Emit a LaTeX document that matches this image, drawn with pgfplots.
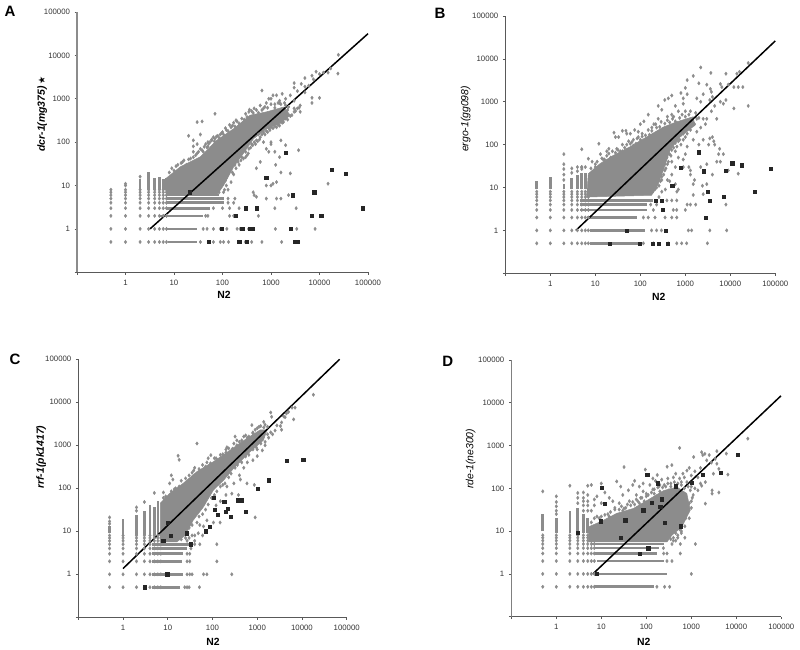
\documentclass[border=0pt]{standalone}
\usepackage{pgfplots}
\usepackage{pgfplotstable}
\usepackage{fontspec}
\setmainfont{Liberation Sans}
\newfontfamily\djv{DejaVu Sans}
\pgfplotsset{compat=1.18}
\definecolor{gr}{HTML}{8C8C8C}
\definecolor{sq}{HTML}{262626}
\pgfplotstableread{
x y
0.5 0.5
1 0.5
2 0.5
3 0.5
4 0.5
5 0.5
6 0.5
7 0.5
0.5 1
1 1
2 1
3 1
4 1
5 1
6 1
7 1
0.5 2
1 2
2 2
3 2
4 2
5 2
6 2
7 2
0.5 3
1 3
2 3
3 3
4 3
5 3
6 3
7 3
0.5 4
1 4
2 4
3 4
4 4
5 4
6 4
7 4
0.5 5
1 5
2 5
3 5
4 5
5 5
6 5
7 5
0.5 6
1 6
2 6
3 6
4 6
5 6
6 6
7 6
0.5 7
1 7
2 7
3 7
4 7
5 7
6 7
7 7
0.5 8
1 8
2 8
3 8
4 8
5 8
6 8
7 8
}\lowgrid
\begin{document}
\begin{tikzpicture}
\path[use as bounding box] (0pt,0pt) rectangle (800pt,650pt);
\node[font=\fontsize{15}{15}\selectfont\bfseries] at (10pt,639pt) {A};
\node[font=\fontsize{15}{15}\selectfont\bfseries] at (440pt,637pt) {B};
\node[font=\fontsize{15}{15}\selectfont\bfseries] at (15pt,291pt) {C};
\node[font=\fontsize{15}{15}\selectfont\bfseries] at (447.7pt,289pt) {D};

% ---------- A
\begin{axis}[scale only axis, xmode=log, ymode=log,
    xmin=0.1,xmax=100000,ymin=0.1,ymax=100000,
    axis x line=bottom, axis y line=left,
    axis line style={-,draw=black!65,line width=0.8pt},
    xtick={0.1,1,10,100,1000,10000,100000},
    ytick={0.1,1,10,100,1000,10000,100000},
    xticklabels={,1,10,100,1000,10000,100000},
    yticklabels={,1,10,100,1000,10000,100000},
    xminorticks=false, yminorticks=false,
    tick align=outside, major tick length=2.5pt,
    tick style={draw=black!65,line width=0.6pt},
    tick label style={font=\fontsize{7.8}{9}\selectfont,text=black!80},
    xticklabel style={yshift=-1.5pt},
    yticklabel style={xshift=-1pt},
    clip=false,
    at={(77pt,377.7pt)},anchor=south west,width=291pt,height=260.3pt,
  y axis line style={draw=black!45,line width=1.3pt},
  xlabel={N2},ylabel={dcr-1(mg375)\,{\djv\upshape\fontsize{9}{9}\selectfont ★}},
  xlabel style={font=\fontsize{10.4}{12}\selectfont\bfseries,anchor=center,at={(axis description cs:0.505,-0.088)}},
  ylabel style={font=\fontsize{10.4}{12}\selectfont\bfseries\itshape,anchor=center,at={(axis description cs:-0.12,0.608)}}]
\addplot[fill=gr,draw=gr,line width=0.5pt] coordinates {(6.8,14.5)(13.5,27)(35,46)(76,110)(170,204)(370,417)(813,500)(1820,645)(2500,417)(1550,270)(813,204)(437,120)(270,55)(170,27)(105,10)(76,6)(7,6)(6.8,14.5)};
\addplot[only marks,mark=diamond*,mark size=1.7pt,color=gr,mark options={draw=gr,fill=gr}] table {\lowgrid};
\addplot[draw=gr,line width=2.6pt,no marks,line cap=butt] table {
x y
7.5 0.5
30 0.5

7 1
30 1

5 2
40 2

7 3
56 3

7 4
105 4

7 5
105 5

7 6
85 6

2 8
2 14

3 8
3 20

4 8
4 15

5 8
5 16

6 8
6 14

7 8
7 15
};
\addplot[only marks,mark=diamond*,mark size=1.7pt,color=gr,mark options={draw=gr,fill=gr}] coordinates {
(1,10)(1,11)(2,16)(35,0.5)(51,0.5)(65,0.5)(90,0.5)(105,0.5)(133,0.5)(214,0.5)(295,0.5)(400,0.5)(650,0.5)(1660,0.5)(3150,0.5)(3700,0.5)
(40,1)(48,1)(65,1)(90,1)(123,1)(200,1)(230,1)(345,1)(437,1)(1230,1)(3400,1)(8100,1)
(45,2)(50,2)(140,2)(170,2)(550,2)(65,3)(100,3)(140,3)(220,3)(1200,3)(3300,3)(130,4)(170,4)(130,5)(180,5)(450,6)(500,5.5)(800,5)(1300,12)(1600,5)(2300,6)(1300,5)(800,10)(1000,10)(15000,11)
(8,20)(10,22)(12,30)(15,35)(18,30)(20,40)(25,45)(25,60)(30,55)(35,70)(40,60)(45,90)(50,80)(55,100)(65,130)(70,120)(80,140)(90,150)(100,170)(120,190)(140,250)(150,220)(170,280)(200,300)(250,350)(300,450)(350,500)(400,520)(500,550)(600,700)(700,600)(800,800)(900,1000)(1100,1200)
(100,12)(120,15)(130,20)(150,25)(180,30)(170,18)(200,40)(220,30)(250,45)(300,60)(350,70)(320,50)(400,90)(450,100)(500,110)(550,150)(600,130)(700,170)(800,180)(900,210)(1000,220)(1200,230)(1400,250)(1700,280)(2000,350)(2500,400)(3000,500)(3500,600)(4000,700)(90,9)(110,8)(120,10)
(9,25)(11,28)(14,33)(16,38)(22,42)(28,50)(32,60)(38,65)(42,78)(48,75)(52,92)(60,115)(68,105)(75,135)(85,125)(95,160)(105,150)(115,210)(130,180)(160,240)(180,230)(190,320)(220,270)(280,330)(320,380)(360,560)(430,470)(450,600)(550,480)(650,550)(750,650)(850,620)(1000,750)(1200,620)(1400,800)(1600,750)(1900,800)(2300,650)
(95,11)(115,13)(125,17)(140,22)(160,20)(160,32)(190,25)(210,35)(240,38)(270,42)(300,45)(340,55)(380,75)(420,85)(480,90)(530,105)(580,115)(650,150)(750,150)(850,170)(950,190)(1100,210)(1300,220)(1500,240)(1800,290)(2200,330)(2700,420)(3200,520)(3800,620)(105,7)(85,7)(130,8)(150,12)
(24500,10300)(24000,3800)(17000,5000)(15000,4000)(12000,4000)(8500,4200)(10000,3700)(7000,3400)(7500,2800)(5000,3000)(3000,2300)(4200,2200)(3000,1800)(650,1550)(1700,1300)(1300,1200)(1000,1000)(1500,900)(2000,1000)(2500,1200)(5000,1900)(6000,2000)(7000,1050)(10000,1050)(7000,800)(5000,1400)(3500,1500)(3000,900)(2000,700)(1500,800)(1200,750)(2200,550)(3000,600)(4000,500)
(20,140)(25,110)(30,290)(38,300)(70,450)(35,150)(50,100)(60,110)(70,90)(30,90)(25,80)
(3700,65)(2500,19)(1250,30)(1100,11)(1600,20)(1000,100)(900,60)(1200,60)(1500,45)(2000,85)(1600,110)(1000,90)(800,70)(700,100)(430,7)(600,35)(500,25)
};
\addplot[draw=black,line width=1.5pt,no marks] coordinates {(3.2,1)(100000,31600)};
\addplot[only marks,mark=square*,mark size=1.6pt,color=sq,mark options={draw=sq,fill=sq}] coordinates {(21,7)(2000,57)(795,15)(17700,23)(35000,19)(2820,6)(7760,7)(300,3)(510,3)(79000,3)(190,2)(6950,2)(10800,2)(98,1)(255,1)(370,1)(425,1)(2510,1)(51,0.5)(220,0.5)(316,0.5)(3150,0.5)(3550,0.5)};
\end{axis}

% ---------- B
\begin{axis}[scale only axis, xmode=log, ymode=log,
    xmin=0.1,xmax=100000,ymin=0.1,ymax=100000,
    axis x line=bottom, axis y line=left,
    axis line style={-,draw=black!65,line width=0.8pt},
    xtick={0.1,1,10,100,1000,10000,100000},
    ytick={0.1,1,10,100,1000,10000,100000},
    xticklabels={,1,10,100,1000,10000,100000},
    yticklabels={,1,10,100,1000,10000,100000},
    xminorticks=false, yminorticks=false,
    tick align=outside, major tick length=2.5pt,
    tick style={draw=black!65,line width=0.6pt},
    tick label style={font=\fontsize{7.8}{9}\selectfont,text=black!80},
    xticklabel style={yshift=-1.5pt},
    yticklabel style={xshift=-1pt},
    clip=false,
    at={(505.3pt,376.7pt)},anchor=south west,width=270pt,height=257.3pt,
  xlabel={N2},ylabel={\mdseries ergo-1(gg098)},
  xlabel style={font=\fontsize{10.4}{12}\selectfont\bfseries,anchor=center,at={(axis description cs:0.568,-0.093)}},
  ylabel style={font=\fontsize{10.4}{12}\selectfont\bfseries\itshape,anchor=center,at={(axis description cs:-0.147,0.60)}}]
\addplot[fill=gr,draw=gr,line width=0.5pt] coordinates {(7,21)(12.7,36)(25,56)(59,89)(138,151)(324,257)(640,340)(1500,447)(1630,282)(760,151)(457,74)(324,25)(250,12)(178,6.6)(6.4,6)(7,21)};
\addplot[only marks,mark=diamond*,mark size=1.7pt,color=gr,mark options={draw=gr,fill=gr}] table {\lowgrid};
\addplot[draw=gr,line width=2.6pt,no marks,line cap=butt] table {
x y
7.5 0.5
98 0.5

7.6 1
127 1

6.4 2
83 2

4.6 3
138 3

4.6 4
138 4

4.6 5
195 5

0.5 9
0.5 14

1 9
1 18

2 9
2 12

3 9
3 17

4 9
4 20

5 9
5 22

6 9
6 22
};
\addplot[only marks,mark=diamond*,mark size=1.7pt,color=gr,mark options={draw=gr,fill=gr}] coordinates {
(2,15)(2,20)(2,27)(2,35)(2,60)(3,22)(3,28)(4,24)(4,30)(5,27)(5,30)(5,78)
(117,0.5)(195,0.5)(417,0.5)(645,0.5)(830,0.5)(1070,0.5)(3100,0.5)
(178,1)(230,1)(295,1)(1170,1)(1380,1)(3500,1)(8300,1)
(117,2)(150,2)(212,2)(355,2)(500,2)(645,2)
(195,3)(540,3)(645,3)(170,4)(230,4)(390,5)(500,5)(645,5)(260,6)(1100,4)(1300,4)(1700,4)(1000,3)(8000,4)
(2200,6300)(3700,4700)(8000,4500)(1500,4000)(1100,3200)(25000,8000)(16000,5000)(14000,4500)(6000,2600)(6500,2200)(9000,2500)(12000,2200)(15000,2200)(19000,2200)(2000,2700)(1000,2100)(3000,2500)(3600,2000)(1100,1500)(900,1200)(2500,1500)(3800,1700)(4000,1300)(2200,1000)(1800,1200)(3500,1100)(800,1600)(500,1400)(420,1200)(350,1100)(250,800)(150,500)(300,650)(600,800)(900,900)(12000,700)(25000,800)(8000,1100)(7000,900)(6000,1000)(4500,800)(3800,600)(5000,400)(3000,400)(2500,400)(1800,400)(1200,500)(1000,450)(700,600)(500,500)(600,350)(400,450)(250,400)(200,300)
(48,210)(50,180)(28,150)(12,105)(20,80)(33,150)(40,210)(60,180)(90,200)(75,220)(100,300)(120,350)(26,190)(7,47)(8.5,40)(13,60)(18,70)(22,50)(10,30)(15,45)(30,80)(40,100)(55,120)(70,130)(90,150)(110,180)(150,220)(180,250)(220,300)(5,30)(6,30)(40,70)(70,95)
(8,28)(9,24)(10,35)(11,40)(14,48)(16,45)(18,55)(20,62)(24,70)(28,65)(32,75)(36,70)(45,85)(50,100)(60,105)(65,115)(80,105)(85,140)(100,130)(110,155)(130,165)(160,170)(180,210)(230,250)(270,260)(290,340)(350,310)(400,370)(450,330)(520,400)(550,450)(750,420)(850,500)(1000,600)(1300,600)(1700,550)(2000,420)
(190,8)(210,9)(230,10)(260,11)(240,14)(280,14)(300,18)(330,20)(370,28)(350,35)(420,40)(390,50)(450,60)(480,55)(500,75)(550,85)(600,110)(650,90)(750,130)(800,170)(900,180)(1000,210)(1300,260)(1600,300)
(1500,130)(2500,130)(3500,140)(4000,150)(4300,120)(5800,80)(7000,60)(5500,60)(4500,100)(3300,100)(2000,100)(1100,90)(1000,60)(900,30)(1300,25)(1300,20)(1200,30)(900,45)(700,50)(600,30)(2200,30)(3000,35)(4000,20)(5000,40)(6000,40)(9000,25)(15000,21)(1600,15)(1500,12)(2400,11)(3000,12)(2500,7)(1500,6.7)(700,9)(650,8)(600,12)(500,20)(450,14)(400,15)(360,9)(300,8)(300,15)(350,25)
(500,40)(400,35)(600,70)(800,100)(900,130)(1000,150)(1100,180)(1300,220)(1800,200)(2200,250)(2800,300)(250,15)(280,20)(320,35)(700,120)
};
\addplot[draw=black,line width=1.5pt,no marks] coordinates {(3.7,1)(100000,26300)};
\addplot[only marks,mark=square*,mark size=1.6pt,color=sq,mark options={draw=sq,fill=sq}] coordinates {(2000,67)(790,29)(2600,24)(11000,37)(17800,33)(80000,27)(7900,25)(510,11)(3150,8)(35000,8)(7000,6)(3500,5)(222,5)(300,5)(318,3)(2850,2)(50,1)(370,1)(21,0.5)(98,0.5)(188,0.5)(255,0.5)(410,0.5)};
\end{axis}

% ---------- C
\begin{axis}[scale only axis, xmode=log, ymode=log,
    xmin=0.1,xmax=100000,ymin=0.1,ymax=100000,
    axis x line=bottom, axis y line=left,
    axis line style={-,draw=black!65,line width=0.8pt},
    xtick={0.1,1,10,100,1000,10000,100000},
    ytick={0.1,1,10,100,1000,10000,100000},
    xticklabels={,1,10,100,1000,10000,100000},
    yticklabels={,1,10,100,1000,10000,100000},
    xminorticks=false, yminorticks=false,
    tick align=outside, major tick length=2.5pt,
    tick style={draw=black!65,line width=0.6pt},
    tick label style={font=\fontsize{7.8}{9}\selectfont,text=black!80},
    xticklabel style={yshift=-1.5pt},
    yticklabel style={xshift=-1pt},
    clip=false,
    at={(78.3pt,32.7pt)},anchor=south west,width=268.4pt,height=258pt,
  xlabel={N2},ylabel={rrf-1(pk1417)},
  xlabel style={font=\fontsize{10.4}{12}\selectfont\bfseries,anchor=center,at={(axis description cs:0.502,-0.097)}},
  ylabel style={font=\fontsize{10.4}{12}\selectfont\bfseries\itshape,anchor=center,at={(axis description cs:-0.138,0.621)}}]
\addplot[fill=gr,draw=gr,line width=0.5pt] coordinates {(6.8,45)(11,76)(22,130)(45,245)(105,417)(250,776)(590,1450)(1170,2290)(1660,2290)(1380,1320)(695,710)(295,290)(178,155)(105,91)(63,37)(37,18)(24.5,8)(16,5.7)(6.8,5.7)(6.8,45)};
\addplot[only marks,mark=diamond*,mark size=1.7pt,color=gr,mark options={draw=gr,fill=gr}] table {\lowgrid};
\addplot[draw=gr,line width=2.6pt,no marks,line cap=butt] table {
x y
4.5 0.5
19 0.5

4.5 1
22 1

4.5 2
21 2

4.5 3
22 3

4.5 4
27 4

4.5 5
33 5

0.5 9
0.5 13

1 8
1 19

2 8
2 24

3 8
3 30

4 8
4 40

5 8
5 37

6 8
6 50
};
\addplot[only marks,mark=diamond*,mark size=1.7pt,color=gr,mark options={draw=gr,fill=gr}] coordinates {
(0.5,15)(0.5,17)(0.5,21)(2,30)(2,36)(3,48)(5,78)(8,80)
(24,0.5)(27,0.5)(30,0.5)(51,0.5)(27,1)(31,1)(35,1)(63,1)(75,1)(270,1)(27,2)(31,2)(125,2)(27,3)(31,3)(33,4)(52,5)(125,5)(40,5)(27,6)(40,6)
(18000,15000)(6500,4000)(7000,7500)(6000,7500)(5000,6000)(4500,5500)(4200,4500)(3500,3400)(2000,5800)(2100,4600)(1500,3000)(45,1100)(17,570)(18,460)(92,590)(210,900)(320,1600)(500,1600)(600,1500)(760,2950)(1400,3500)(12,200)(13,160)(11,130)(38,260)(3300,2800)(2750,2900)(3900,4700)(3500,2300)(2500,2200)(2000,2000)
(590,130)(860,120)(900,21)(380,70)(270,75)(210,110)(420,160)(1000,560)(1300,760)(1500,1000)(1800,1500)(2200,1800)(75,18)(63,13)(48,9)(52,14)(105,16)(148,16)(40,8)(60,8)(120,40)(150,50)(200,70)(300,130)(400,200)(500,300)(600,400)(800,450)(1000,800)
(8,60)(12,85)(15,100)(20,150)(30,200)(40,300)(60,350)(80,500)(120,500)(150,600)(200,800)(300,1100)(400,1200)(800,2000)(1000,2500)(1200,2800)
(9,65)(10,55)(14,95)(18,110)(25,170)(28,140)(35,180)(35,230)(50,280)(55,250)(70,320)(75,400)(90,380)(110,500)(130,450)(170,620)(200,680)(230,850)(280,830)(350,1000)(350,1300)(450,1300)(550,1700)(650,1600)(800,1900)(900,2300)(1100,2700)(1400,2600)(1700,2700)
(30,12)(35,14)(45,16)(50,22)(60,25)(70,32)(80,42)(95,60)(110,70)(125,85)(150,110)(170,120)(190,130)(230,180)(260,220)(320,300)(360,350)(450,400)(550,550)(650,600)(800,800)(950,900)(1200,1100)(1500,1200)(1700,1800)(20,6.5)(25,7)(30,7)(35,8)(28,9)(25,11)
};
\addplot[draw=black,line width=1.5pt,no marks] coordinates {(1,1.36)(69500,100000)};
\addplot[only marks,mark=square*,mark size=1.6pt,color=sq,mark options={draw=sq,fill=sq}] coordinates {(10700,455)(4470,437)(1820,155)(1030,98)(105,60)(182,48)(375,53)(457,53)(560,28)(250,22)(218,33)(200,29)(110,32)(129,24)(10,16)(11.7,8)(7.9,6)(27,9)(33,5)(70,10)(85,13)(9.7,1)(3,0.5)};
\end{axis}

% ---------- D
\begin{axis}[scale only axis, xmode=log, ymode=log,
    xmin=0.1,xmax=100000,ymin=0.1,ymax=100000,
    axis x line=bottom, axis y line=left,
    axis line style={-,draw=black!65,line width=0.8pt},
    xtick={0.1,1,10,100,1000,10000,100000},
    ytick={0.1,1,10,100,1000,10000,100000},
    xticklabels={,1,10,100,1000,10000,100000},
    yticklabels={,1,10,100,1000,10000,100000},
    xminorticks=false, yminorticks=false,
    tick align=outside, major tick length=2.5pt,
    tick style={draw=black!65,line width=0.6pt},
    tick label style={font=\fontsize{7.8}{9}\selectfont,text=black!80},
    xticklabel style={yshift=-1.5pt},
    yticklabel style={xshift=-1pt},
    clip=false,
    at={(511.3pt,33.3pt)},anchor=south west,width=270pt,height=256.7pt,
  y axis line style={draw=black!50,line width=1pt},
  xlabel={N2},ylabel={\mdseries rde-1(ne300)},
  xlabel style={font=\fontsize{10.4}{12}\selectfont\bfseries,anchor=center,at={(axis description cs:0.491,-0.097)}},
  ylabel style={font=\fontsize{10.4}{12}\selectfont\bfseries\itshape,anchor=center,at={(axis description cs:-0.15,0.615)}}]
\addplot[fill=gr,draw=gr,line width=0.5pt] coordinates {(5.2,12.6)(9.5,16.5)(22,26)(52,34)(123,58)(245,89)(480,107)(794,76)(950,31)(617,12.6)(370,8)(288,5.6)(5.2,5.6)(5.2,12.6)};
\addplot[only marks,mark=diamond*,mark size=1.7pt,color=gr,mark options={draw=gr,fill=gr}] table {\lowgrid};
\addplot[draw=gr,line width=2.6pt,no marks,line cap=butt] table {
x y
6.8 0.5
145 0.5

6.8 1
288 1

8 2
243 2

7 3
172 3

7 4
190 4

6 5
243 5

0.5 10
0.5 25

1 9
1 20

2 9
2 30

3 9
3 35

4 9
4 25

5 9
5 20
};
\addplot[only marks,mark=diamond*,mark size=1.7pt,color=gr,mark options={draw=gr,fill=gr}] coordinates {
(0.5,85)(1,25)(1,30)(1,38)(1,48)(1,65)(2,115)(3,45)(3,60)(3,78)(4,30)(4,40)(4,50)(4,60)(4,80)(5,30)(5,40)(5,50)(5,70)(5,115)
(172,0.5)(255,0.5)(330,0.5)(1000,1)(288,2)(372,2)(243,3)(288,3)(570,3)(240,4)(372,5)(570,5)(1230,5)(400,6)(450,6)(500,8)(600,9)
(18000,1450)(550,880)(32,315)(95,275)(1130,540)(1700,700)(2000,640)(1800,600)(3700,740)(6000,650)(3400,490)(3700,375)(4100,285)(6500,210)(3100,220)(2900,90)(2900,75)(4100,80)(1700,115)(2050,44)(2050,140)(800,260)(650,220)(370,350)(290,320)(175,205)(140,170)(85,85)(50,120)(22,145)(27,110)(10,130)(6,120)(8,65)(7,55)(12,80)(15,60)(18,50)(25,45)(30,70)(40,90)(55,150)(60,70)(70,110)(85,130)(100,75)(120,120)(140,95)(160,150)(190,110)(220,160)(250,120)(300,170)(350,130)(400,180)(450,220)(550,170)(600,140)(700,180)(800,140)(900,300)(1000,200)(1200,250)(1400,180)(1600,300)(2200,450)(2800,400)(2500,600)(1000,110)(1200,100)(1100,70)(1000,50)(800,40)(700,25)(900,20)(600,10)(720,7)(500,7)(1400,90)(1600,130)
(35,35)(45,40)(70,45)(90,50)(110,70)(150,75)(170,65)(200,85)(280,60)(320,90)(600,55)(30,30)(20,32)(14,25)(8,22)(6,30)(7,40)(10,45)(100,45)(75,60)
(6,16)(7,20)(9,20)(10,22)(12,24)(15,22)(16,28)(20,35)(25,32)(28,38)(32,34)(38,42)(42,50)(50,48)(55,42)(60,55)(65,50)(80,60)(100,65)(130,80)(150,95)(180,105)(200,120)(230,105)(270,110)(300,130)(350,110)(420,140)(500,130)(600,120)(700,100)(850,110)(950,90)(1050,60)(1000,35)
(750,20)(650,18)(600,15)(550,11)(450,9)(400,7)(350,6.5)(300,7)(720,13)(800,30)(900,45)
};
\addplot[draw=black,line width=1.5pt,no marks] coordinates {(6.5,1)(98000,14500)};
\addplot[only marks,mark=square*,mark size=1.6pt,color=sq,mark options={draw=sq,fill=sq}] coordinates {(10900,620)(4500,230)(1820,205)(1030,135)(457,112)(182,132)(105,208)(10,104)(11.8,44)(131,47)(218,56)(204,37)(85,31)(9.8,17)(34,18)(256,16)(570,13)(3,9)(27,7)(110,4)(70,3)(7.8,1)};
\end{axis}
\end{tikzpicture}
\end{document}
